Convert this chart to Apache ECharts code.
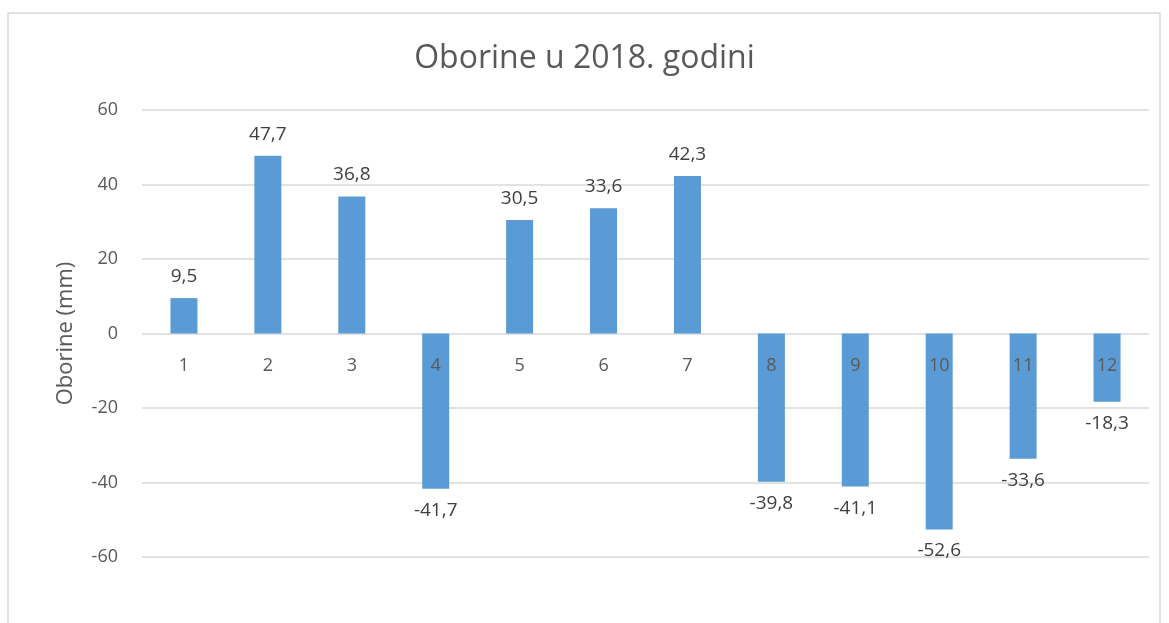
<!DOCTYPE html>
<html>
<head>
<meta charset="utf-8">
<script src="https://cdn.jsdelivr.net/npm/echarts@6/dist/echarts.min.js"></script>
<style>
html, body { margin: 0; padding: 0; background: #fff; }
#chart { width: 1169px; height: 623px; }
</style>
</head>
<body>
<div id="chart"></div>
<script>
// mjeseci i oborine
var months = ['1', '2', '3', '4', '5', '6', '7', '8', '9', '10', '11', '12'];
var oborine = [9.5, 47.7, 36.8, -41.7, 30.5, 33.6, 42.3, -39.8, -41.1, -52.6, -33.6, -18.3];
var yTicks = [-60, -40, -20, 0, 20, 40, 60];

var font = '"Open Sans", "Noto Sans", sans-serif';
var chart = echarts.init(document.getElementById('chart'));
chart.setOption({
    animation: false,
    color: ['#5b9bd5'],
    graphic: [{
        type: 'rect',
        shape: { x: 8, y: 13, width: 1152, height: 640 },
        style: { fill: 'none', stroke: '#d9d9d9', lineWidth: 1.5 },
        silent: true
    }],
    title: {
        text: 'Oborine u 2018. godini',
        left: 'center',
        top: 38,
        textStyle: { color: '#595959', fontSize: 32, fontWeight: 'normal', fontFamily: font }
    },
    grid: { left: 142, right: 20, top: 110, bottom: 66 },
    xAxis: {
        type: 'category',
        data: months,
        z: 5,
        // labels sit just under the zero line
        offset: -223,
        axisLine: { show: false, onZero: false },
        axisTick: { show: false },
        axisLabel: { color: '#595959', fontSize: 18, fontFamily: font, margin: 23 }
    },
    yAxis: {
        type: 'value',
        min: yTicks[0],
        max: yTicks[yTicks.length - 1],
        interval: 20,
        name: 'Oborine (mm)',
        nameLocation: 'middle',
        nameGap: 65,
        nameTextStyle: { color: '#595959', fontSize: 22, fontFamily: font },
        axisLine: { show: false },
        axisTick: { show: false },
        axisLabel: { color: '#595959', fontSize: 18, fontFamily: font, margin: 24 },
        splitLine: { lineStyle: { color: '#d9d9d9', width: 1.5 } }
    },
    series: [{
        name: 'Oborine',
        type: 'bar',
        barWidth: 27,
        data: oborine.map(function (v) {
            return {
                value: v,
                label: { position: v >= 0 ? 'top' : 'bottom' }
            };
        }),
        label: {
            show: true,
            distance: 12,
            color: '#404040',
            fontSize: 19,
            fontFamily: font,
            formatter: function (p) { return p.value.toFixed(1).replace('.', ','); }
        }
    }]
});
</script>
</body>
</html>
